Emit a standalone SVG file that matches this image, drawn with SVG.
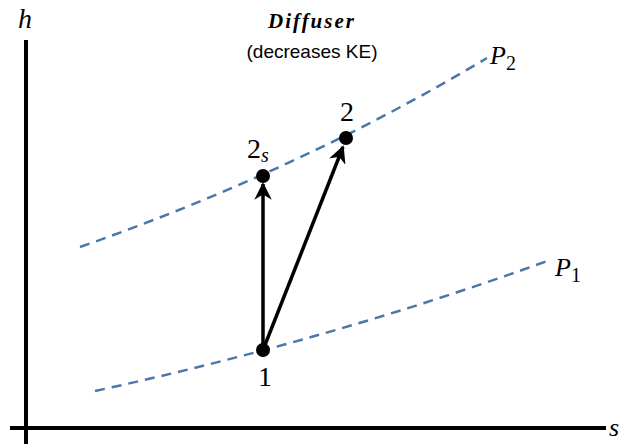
<svg xmlns="http://www.w3.org/2000/svg" width="634" height="444" viewBox="0 0 634 444">
<style>
.axis{stroke:#000;stroke-width:4;fill:none}
.iso{stroke:#4a78a6;stroke-width:2.5;fill:none;stroke-dasharray:10 7}
.arr{stroke:#000;stroke-width:3.5;fill:none;marker-end:url(#ah)}
.math{font-family:"Liberation Serif",serif;font-style:italic;fill:#000}
.num{font-family:"Liberation Serif",serif;fill:#000;font-size:28px;text-anchor:middle}
.pt{fill:#000}
</style>
<defs>
<marker id="ah" viewBox="0 0 10 10" refX="9" refY="5" markerWidth="5" markerHeight="5" orient="auto" markerUnits="strokeWidth">
<path d="M0,0 L10,5 L0,10 L3,5 z" fill="#000"/>
</marker>
</defs>
<rect width="634" height="444" fill="#fff"/>
<g id="axes">
<line class="axis" x1="26" y1="40" x2="26" y2="444"/>
<line class="axis" x1="10" y1="428" x2="606" y2="428"/>
<text class="math" x="18" y="28" font-size="28">h</text>
<text class="math" x="609" y="436" font-size="26">s</text>
</g>
<g id="title">
<text x="312" y="28" font-family="Liberation Serif,serif" font-style="italic" font-weight="bold" font-size="21" letter-spacing="2" text-anchor="middle">Diffuser</text>
<text x="312" y="58" font-family="Liberation Sans,sans-serif" font-size="19" text-anchor="middle">(decreases KE)</text>
</g>
<g id="isobar-P2">
<path class="iso" d="M80,247 Q300,170 487,58"/>
<text class="math" x="490" y="64" font-size="26">P<tspan font-style="normal" font-size="20" dy="6">2</tspan></text>
</g>
<g id="isobar-P1">
<path class="iso" d="M95,391 Q330,340 550,260"/>
<text class="math" x="555" y="276" font-size="26">P<tspan font-style="normal" font-size="20" dy="6">1</tspan></text>
</g>
<g id="connectors">
<line class="arr" x1="263" y1="350" x2="263" y2="184"/>
<line class="arr" x1="263" y1="350" x2="343" y2="147"/>
</g>
<g id="state-1">
<circle class="pt" cx="263" cy="350" r="7"/>
<text class="num" x="265" y="386">1</text>
</g>
<g id="state-2s">
<circle class="pt" cx="263" cy="176" r="7"/>
<text class="num" x="258" y="158" font-size="26">2<tspan class="math" font-size="20" dy="4">s</tspan></text>
</g>
<g id="state-2">
<circle class="pt" cx="346" cy="138" r="7"/>
<text class="num" x="347" y="121">2</text>
</g>
</svg>
